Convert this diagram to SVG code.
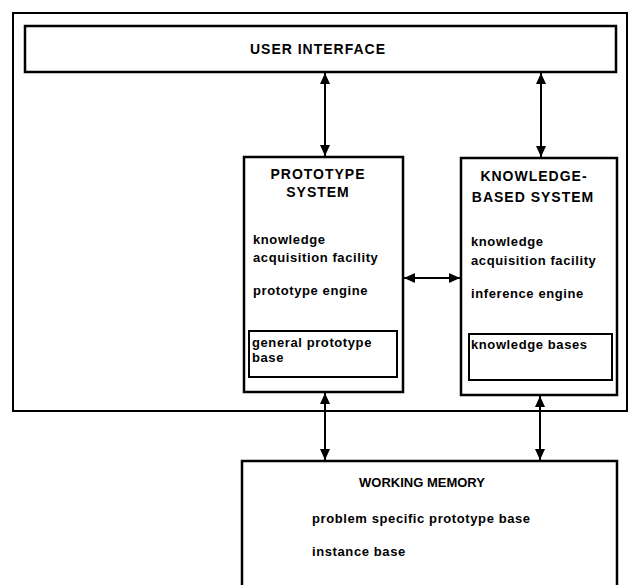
<svg xmlns="http://www.w3.org/2000/svg" width="630" height="585" viewBox="0 0 630 585">
<style>
.box{fill:#fff;stroke:#000;stroke-width:2.5}
.inner{fill:none;stroke:#000;stroke-width:2}
.outer{fill:none;stroke:#000;stroke-width:2}
.title{font-family:"Liberation Sans",Arial,sans-serif;font-weight:bold;font-size:14px;letter-spacing:1px;fill:#000}
.body{font-family:"Liberation Sans",Arial,sans-serif;font-weight:bold;font-size:13px;letter-spacing:0.6px;fill:#000}
.conn{stroke:#000;stroke-width:2;fill:none;marker-start:url(#ah);marker-end:url(#ah)}
</style>
<defs>
<marker id="ah" markerUnits="userSpaceOnUse" markerWidth="12" markerHeight="10" refX="11" refY="5" orient="auto-start-reverse">
<path d="M0,0 L11,5 L0,10 Z" fill="#000"/>
</marker>
</defs>
<rect width="630" height="585" fill="#fff"/>
<g id="outer-frame">
<rect class="outer" x="13" y="13" width="614" height="398"/>
</g>
<g id="user-interface">
<rect class="box" x="25" y="26" width="591" height="46"/>
<text class="title" x="318" y="54" text-anchor="middle">USER INTERFACE</text>
</g>
<g id="prototype-system">
<rect class="box" x="244" y="157" width="159" height="235" stroke-width="3"/>
<text class="title" x="318" y="179" text-anchor="middle">PROTOTYPE</text>
<text class="title" x="318" y="197" text-anchor="middle">SYSTEM</text>
<text class="body" x="253" y="244">knowledge</text>
<text class="body" x="253" y="262">acquisition facility</text>
<text class="body" x="253" y="295">prototype engine</text>
</g>
<g id="general-prototype-base">
<rect class="inner" x="249" y="331" width="148" height="46"/>
<text class="body" x="252" y="347">general prototype</text>
<text class="body" x="252" y="362">base</text>
</g>
<g id="knowledge-based-system">
<rect class="box" x="461" y="158" width="156" height="237" stroke-width="3"/>
<text class="title" x="534" y="181" text-anchor="middle">KNOWLEDGE-</text>
<text class="title" x="533" y="202" text-anchor="middle">BASED SYSTEM</text>
<text class="body" x="471" y="246">knowledge</text>
<text class="body" x="471" y="265">acquisition facility</text>
<text class="body" x="471" y="298">inference engine</text>
</g>
<g id="knowledge-bases">
<rect class="inner" x="469" y="334" width="143" height="46"/>
<text class="body" x="471" y="349">knowledge bases</text>
</g>
<g id="working-memory">
<rect class="box" x="242" y="461" width="375" height="140" stroke-width="3"/>
<text class="body" x="422" y="487" text-anchor="middle" style="letter-spacing:0">WORKING MEMORY</text>
<text class="body" x="312" y="523">problem specific prototype base</text>
<text class="body" x="312" y="556">instance base</text>
</g>
<g id="connectors">
<line class="conn" x1="325" y1="73" x2="325" y2="156"/>
<line class="conn" x1="541" y1="73" x2="541" y2="157"/>
<line class="conn" x1="404" y1="278" x2="460" y2="278"/>
<line class="conn" x1="325" y1="393" x2="325" y2="460"/>
<line class="conn" x1="540" y1="396" x2="540" y2="460"/>
</g>
</svg>
